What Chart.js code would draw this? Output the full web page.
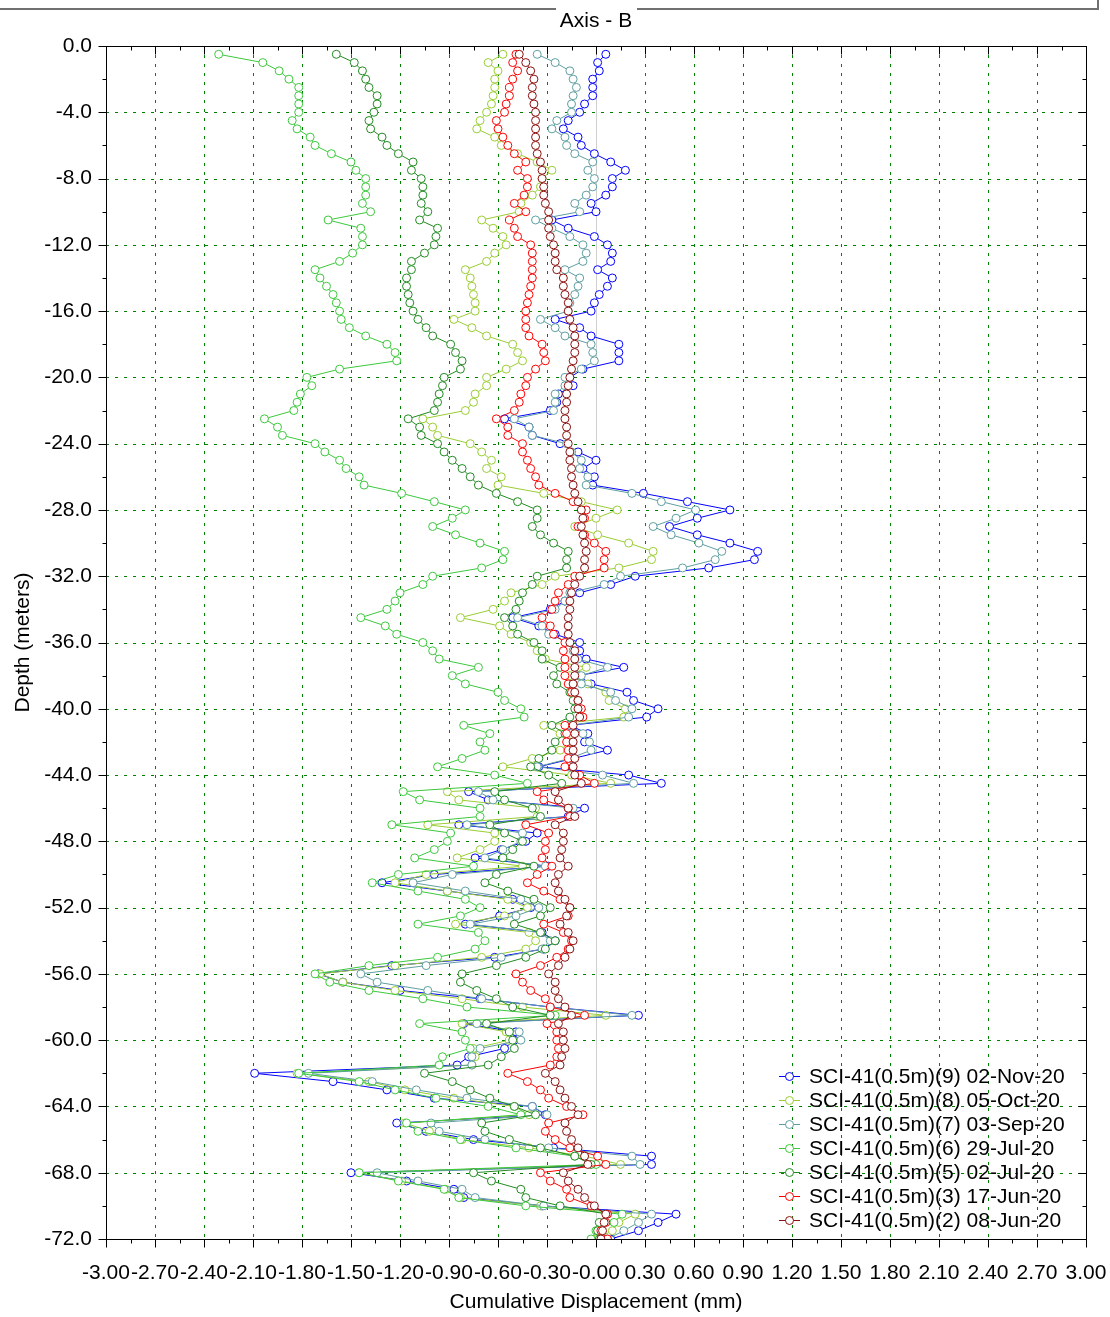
<!DOCTYPE html>
<html>
<head>
<meta charset="utf-8">
<script src="https://cdn.jsdelivr.net/npm/chart.js@4.4.0/dist/chart.umd.min.js"></script>
<style>
  html, body { margin: 0; padding: 0; background: #fff; }
</style>
</head>
<body>
<canvas id="chart1" width="1110" height="1317"></canvas>
<script>
// Depth of each reading (m), every 0.5 m
const depths = Array.from({ length: 144 }, (_, i) => -0.5 * (i + 1));

// Cumulative displacement (mm) per survey, top to bottom
const nov02 = [0.06,0.01,0.02,-0.02,-0.02,-0.02,-0.07,-0.10,-0.17,-0.20,-0.11,-0.09,-0.01,0.09,
  0.18,0.10,0.10,0.06,-0.03,0.00,-0.27,-0.17,-0.01,0.07,0.10,0.09,0.01,0.10,
  0.07,0.02,-0.01,-0.03,-0.25,-0.10,-0.03,0.14,0.14,0.14,-0.08,-0.16,-0.14,-0.23,-0.24,
  -0.28,-0.56,-0.41,-0.39,-0.22,-0.11,0.00,-0.08,-0.01,-0.02,0.29,0.56,0.82,0.62,
  0.45,0.62,0.82,0.99,0.97,0.69,0.24,0.09,-0.10,-0.19,-0.28,-0.51,-0.35,-0.25,-0.10,
  -0.10,-0.06,0.17,-0.11,-0.03,0.19,0.23,0.38,0.31,-0.16,-0.05,-0.07,0.07,-0.14,
  -0.35,0.20,0.40,-0.78,-0.66,-0.07,-0.17,-0.84,-0.36,-0.43,-0.58,-0.74,-0.29,-0.99,-1.31,
  -0.91,-0.51,-0.40,-0.59,-0.80,-0.33,-0.25,-0.32,-0.62,-1.25,-1.70,-1.55,-1.20,-0.71,
  -0.28,0.26,-0.81,-0.49,-0.50,-0.56,-0.78,-0.85,-2.09,-1.61,-1.28,-0.99,-0.39,-0.31,-1.22,
  -1.04,-0.75,-0.26,0.34,0.34,-1.50,-1.16,-0.87,-0.81,-0.33,0.49,0.38,0.26,0.09];
const oct05 = [-0.57,-0.66,-0.60,-0.62,-0.62,-0.63,-0.64,-0.67,-0.71,-0.73,-0.62,-0.58,-0.48,-0.36,
  -0.27,-0.33,-0.34,-0.39,-0.46,-0.47,-0.70,-0.63,-0.57,-0.55,-0.62,-0.67,-0.80,-0.77,
  -0.76,-0.75,-0.74,-0.74,-0.87,-0.76,-0.67,-0.51,-0.48,-0.45,-0.55,-0.67,-0.67,-0.74,-0.75,
  -0.80,-1.06,-1.00,-0.97,-0.77,-0.70,-0.64,-0.67,-0.58,-0.60,-0.32,-0.09,0.13,0.00,
  -0.13,0.01,0.20,0.35,0.34,0.14,-0.25,-0.33,-0.52,-0.56,-0.63,-0.83,-0.59,-0.52,-0.40,
  -0.36,-0.31,-0.06,-0.16,-0.05,0.06,0.08,0.18,0.17,-0.32,-0.22,-0.16,-0.22,-0.39,
  -0.57,-0.15,0.09,-0.91,-0.84,-0.37,-0.36,-1.03,-0.62,-0.62,-0.71,-0.85,-0.45,-1.04,-1.23,
  -0.91,-0.54,-0.42,-0.56,-0.86,-0.41,-0.37,-0.43,-0.70,-1.23,-1.69,-1.55,-1.23,-0.82,
  -0.45,0.06,-0.82,-0.55,-0.53,-0.75,-0.74,-0.76,-1.83,-1.39,-1.17,-0.87,-0.50,-0.41,-1.17,
  -1.02,-0.82,-0.41,-0.07,0.15,-1.45,-1.19,-0.92,-0.83,-0.34,0.24,0.14,0.10,0.00];
const sep03 = [-0.36,-0.25,-0.16,-0.14,-0.12,-0.14,-0.15,-0.15,-0.24,-0.27,-0.19,-0.18,-0.13,-0.02,
  -0.05,-0.01,-0.02,-0.06,-0.13,-0.10,-0.37,-0.27,-0.16,-0.08,-0.06,-0.08,-0.19,-0.10,
  -0.11,-0.13,-0.16,-0.17,-0.34,-0.25,-0.19,-0.03,-0.02,-0.01,-0.09,-0.19,-0.19,-0.25,-0.25,
  -0.26,-0.50,-0.41,-0.39,-0.18,-0.15,-0.09,-0.10,-0.05,-0.06,0.22,0.40,0.61,0.49,
  0.35,0.46,0.63,0.77,0.73,0.53,0.15,0.05,-0.16,-0.19,-0.25,-0.48,-0.33,-0.29,-0.16,
  -0.14,-0.11,0.07,-0.09,-0.09,0.09,0.12,0.22,0.20,-0.16,-0.08,-0.04,-0.03,-0.16,
  -0.36,0.04,0.23,-0.72,-0.63,-0.14,-0.16,-0.79,-0.45,-0.46,-0.57,-0.68,-0.31,-0.88,-1.12,
  -0.80,-0.46,-0.35,-0.49,-0.77,-0.34,-0.28,-0.33,-0.58,-1.04,-1.44,-1.34,-1.03,-0.70,
  -0.28,0.22,-0.73,-0.47,-0.46,-0.71,-0.76,-0.76,-1.76,-1.37,-1.10,-0.79,-0.39,-0.30,-1.01,
  -0.96,-0.68,-0.29,0.22,0.27,-1.34,-1.09,-0.82,-0.74,-0.32,0.34,0.26,0.17,0.07];
const jul29 = [-2.31,-2.04,-1.94,-1.88,-1.82,-1.82,-1.82,-1.82,-1.86,-1.83,-1.75,-1.72,-1.62,-1.50,
  -1.47,-1.41,-1.41,-1.41,-1.43,-1.38,-1.64,-1.44,-1.43,-1.43,-1.49,-1.57,-1.72,-1.69,
  -1.65,-1.61,-1.59,-1.57,-1.56,-1.51,-1.41,-1.28,-1.23,-1.22,-1.57,-1.77,-1.74,-1.81,-1.83,
  -1.85,-2.03,-1.95,-1.92,-1.72,-1.66,-1.57,-1.53,-1.45,-1.42,-1.19,-0.99,-0.80,-0.88,
  -1.00,-0.86,-0.71,-0.56,-0.57,-0.70,-1.00,-1.06,-1.20,-1.23,-1.28,-1.44,-1.29,-1.22,-1.06,
  -1.00,-0.96,-0.72,-0.88,-0.80,-0.60,-0.56,-0.46,-0.44,-0.81,-0.65,-0.71,-0.68,-0.82,
  -0.97,-0.62,-0.42,-1.18,-1.08,-0.71,-0.71,-1.25,-0.89,-0.91,-0.99,-1.11,-0.75,-1.21,-1.37,
  -1.09,-0.80,-0.71,-0.83,-1.09,-0.72,-0.68,-0.74,-0.97,-1.39,-1.72,-1.63,-1.39,-1.06,
  -0.79,-0.25,-1.08,-0.82,-0.80,-0.77,-0.94,-0.96,-1.82,-1.45,-1.23,-0.98,-0.66,-0.46,-1.16,
  -1.09,-0.83,-0.49,-0.13,0.00,-1.45,-1.21,-0.93,-0.84,-0.43,0.16,0.11,0.00,-0.03];
const jul02 = [-1.59,-1.48,-1.43,-1.41,-1.39,-1.34,-1.34,-1.36,-1.39,-1.38,-1.31,-1.28,-1.21,-1.12,
  -1.13,-1.07,-1.06,-1.06,-1.07,-1.03,-1.08,-0.97,-0.98,-0.99,-1.05,-1.13,-1.13,-1.16,
  -1.16,-1.15,-1.14,-1.12,-1.09,-1.04,-1.00,-0.89,-0.86,-0.82,-0.83,-0.93,-0.94,-0.96,-0.97,
  -0.99,-1.15,-1.08,-1.07,-0.97,-0.93,-0.88,-0.82,-0.77,-0.72,-0.61,-0.48,-0.36,-0.36,
  -0.39,-0.34,-0.26,-0.17,-0.18,-0.18,-0.36,-0.39,-0.45,-0.47,-0.49,-0.56,-0.51,-0.48,-0.38,
  -0.33,-0.33,-0.22,-0.26,-0.24,-0.16,-0.14,-0.13,-0.16,-0.27,-0.19,-0.25,-0.27,-0.35,
  -0.40,-0.29,-0.21,-0.62,-0.56,-0.39,-0.34,-0.65,-0.56,-0.45,-0.51,-0.57,-0.38,-0.61,-0.68,
  -0.54,-0.38,-0.28,-0.34,-0.50,-0.34,-0.25,-0.31,-0.43,-0.61,-0.82,-0.83,-0.73,-0.61,
  -0.51,-0.28,-0.67,-0.53,-0.51,-0.50,-0.58,-0.66,-1.05,-0.88,-0.77,-0.65,-0.50,-0.37,-0.70,
  -0.68,-0.53,-0.34,-0.13,-0.03,-0.75,-0.64,-0.46,-0.43,-0.22,0.07,0.02,0.01,0.02];
const jun17 = [-0.49,-0.51,-0.48,-0.51,-0.53,-0.53,-0.55,-0.56,-0.61,-0.60,-0.57,-0.54,-0.50,-0.43,
  -0.48,-0.42,-0.42,-0.44,-0.50,-0.43,-0.53,-0.50,-0.48,-0.40,-0.39,-0.39,-0.39,-0.39,
  -0.40,-0.41,-0.42,-0.43,-0.43,-0.43,-0.41,-0.33,-0.32,-0.31,-0.37,-0.42,-0.43,-0.46,-0.47,
  -0.50,-0.61,-0.54,-0.54,-0.45,-0.45,-0.42,-0.40,-0.37,-0.35,-0.25,-0.14,-0.06,-0.07,
  -0.11,-0.07,-0.01,0.06,0.05,0.05,-0.13,-0.17,-0.23,-0.25,-0.27,-0.33,-0.28,-0.26,-0.19,
  -0.20,-0.19,-0.19,-0.19,-0.17,-0.15,-0.11,-0.09,-0.08,-0.19,-0.18,-0.18,-0.17,-0.17,
  -0.19,-0.10,-0.01,-0.36,-0.32,-0.17,-0.16,-0.43,-0.29,-0.31,-0.31,-0.33,-0.27,-0.36,-0.42,
  -0.32,-0.22,-0.16,-0.17,-0.32,-0.20,-0.15,-0.17,-0.24,-0.34,-0.49,-0.45,-0.40,-0.31,
  -0.28,-0.07,-0.30,-0.24,-0.24,-0.23,-0.24,-0.28,-0.54,-0.42,-0.34,-0.29,-0.18,-0.08,-0.29,
  -0.31,-0.25,-0.16,0.01,0.06,-0.34,-0.28,-0.18,-0.16,-0.03,0.07,0.06,0.03,0.07];
const jun08 = [-0.47,-0.43,-0.40,-0.38,-0.39,-0.39,-0.38,-0.37,-0.37,-0.37,-0.37,-0.37,-0.36,-0.34,
  -0.33,-0.33,-0.32,-0.32,-0.31,-0.29,-0.29,-0.29,-0.28,-0.26,-0.25,-0.25,-0.24,-0.20,
  -0.20,-0.19,-0.17,-0.17,-0.16,-0.14,-0.13,-0.13,-0.13,-0.14,-0.15,-0.16,-0.17,-0.18,-0.18,
  -0.19,-0.19,-0.18,-0.18,-0.17,-0.16,-0.16,-0.15,-0.15,-0.14,-0.13,-0.11,-0.09,-0.08,
  -0.09,-0.08,-0.07,-0.06,-0.07,-0.07,-0.10,-0.13,-0.15,-0.16,-0.16,-0.17,-0.17,-0.17,-0.16,
  -0.13,-0.13,-0.13,-0.13,-0.14,-0.13,-0.11,-0.11,-0.10,-0.14,-0.13,-0.14,-0.14,-0.13,
  -0.14,-0.13,-0.09,-0.25,-0.23,-0.17,-0.13,-0.25,-0.20,-0.20,-0.21,-0.22,-0.17,-0.23,-0.25,
  -0.23,-0.19,-0.16,-0.18,-0.22,-0.17,-0.14,-0.16,-0.19,-0.23,-0.29,-0.25,-0.25,-0.23,
  -0.19,-0.15,-0.23,-0.20,-0.20,-0.19,-0.21,-0.22,-0.31,-0.25,-0.22,-0.19,-0.15,-0.11,-0.19,
  -0.18,-0.15,-0.11,-0.07,-0.05,-0.20,-0.17,-0.11,-0.07,-0.01,0.06,0.05,0.04,0.03];

const seriesLabels = [
  'SCI-41(0.5m)(9) 02-Nov-20', 'SCI-41(0.5m)(8) 05-Oct-20', 'SCI-41(0.5m)(7) 03-Sep-20',
  'SCI-41(0.5m)(6) 29-Jul-20', 'SCI-41(0.5m)(5) 02-Jul-20', 'SCI-41(0.5m)(3) 17-Jun-20',
  'SCI-41(0.5m)(2) 08-Jun-20'
];
const seriesValues = [nov02, oct05, sep03, jul29, jul02, jun17, jun08];
const seriesColors = ['#0000ff', '#9acd32', '#5f9ea0', '#3cc83c', '#228b22', '#ff0000', '#8b1010'];

// Axis ticks
const xTicks = [-3, -2.7, -2.4, -2.1, -1.8, -1.5, -1.2, -0.9, -0.6, -0.3, 0, 0.3, 0.6, 0.9, 1.2, 1.5, 1.8, 2.1, 2.4, 2.7, 3];
const xTickLabels = ['-3.00', '-2.70', '-2.40', '-2.10', '-1.80', '-1.50', '-1.20', '-0.90', '-0.60', '-0.30', '-0.00',
  '0.30', '0.60', '0.90', '1.20', '1.50', '1.80', '2.10', '2.40', '2.70', '3.00'];
const yTicks = [0, -4, -8, -12, -16, -20, -24, -28, -32, -36, -40, -44, -48, -52, -56, -60, -64, -68, -72];
const yTickLabels = ['0.0', '-4.0', '-8.0', '-12.0', '-16.0', '-20.0', '-24.0', '-28.0', '-32.0', '-36.0', '-40.0',
  '-44.0', '-48.0', '-52.0', '-56.0', '-60.0', '-64.0', '-68.0', '-72.0'];

const FONT = 'Liberation Sans, Arial, sans-serif';

// grid, zero line, frame and tick marks
const axesFrame = {
  id: 'axesFrame',
  beforeDatasetsDraw(chart) {
    const { ctx, chartArea: a, scales: { x, y } } = chart;
    ctx.save();
    ctx.lineWidth = 1;
    ctx.strokeStyle = '#008000';
    ctx.setLineDash([3, 6]);
    ctx.beginPath();
    xTicks.forEach(v => {
      if (v === 0 || v === -3 || v === 3) return;
      const px = Math.round(x.getPixelForValue(v)) + 0.5;
      ctx.moveTo(px, a.top); ctx.lineTo(px, a.bottom);
    });
    yTicks.forEach(v => {
      if (v === 0 || v === -72) return;
      const py = Math.round(y.getPixelForValue(v)) + 0.5;
      ctx.moveTo(a.left, py); ctx.lineTo(a.right, py);
    });
    ctx.stroke();
    ctx.setLineDash([]);
    ctx.strokeStyle = '#cfcfcf';
    const zx = Math.round(x.getPixelForValue(0)) + 0.5;
    ctx.beginPath(); ctx.moveTo(zx, a.top); ctx.lineTo(zx, a.bottom); ctx.stroke();
    ctx.restore();
  },
  afterDatasetsDraw(chart) {
    const { ctx, chartArea: a, scales: { x, y } } = chart;
    ctx.save();
    ctx.strokeStyle = '#000';
    ctx.lineWidth = 1;
    const L = Math.round(a.left) + 0.5, R = Math.round(a.right) + 0.5;
    const T = Math.round(a.top) + 0.5, B = Math.round(a.bottom) + 0.5;
    ctx.strokeRect(L, T, R - L, B - T);
    ctx.beginPath();
    for (let k = 0; k < xTicks.length; k++) {
      const px = Math.round(x.getPixelForValue(xTicks[k])) + 0.5;
      ctx.moveTo(px, B); ctx.lineTo(px, B + 8);
      ctx.moveTo(px, T); ctx.lineTo(px, T + 8);
      if (k < xTicks.length - 1) {
        const mx = Math.round(x.getPixelForValue((xTicks[k] + xTicks[k + 1]) / 2)) + 0.5;
        ctx.moveTo(mx, B); ctx.lineTo(mx, B + 4);
        ctx.moveTo(mx, T); ctx.lineTo(mx, T + 4);
      }
    }
    for (let k = 0; k < yTicks.length; k++) {
      const py = Math.round(y.getPixelForValue(yTicks[k])) + 0.5;
      ctx.moveTo(L, py); ctx.lineTo(L - 8, py);
      ctx.moveTo(R, py); ctx.lineTo(R - 8, py);
      if (k < yTicks.length - 1) {
        const my = Math.round(y.getPixelForValue((yTicks[k] + yTicks[k + 1]) / 2)) + 0.5;
        ctx.moveTo(L, my); ctx.lineTo(L - 4, my);
        ctx.moveTo(R, my); ctx.lineTo(R - 4, my);
      }
    }
    ctx.stroke();
    ctx.restore();
  },
  afterDraw(chart) {
    const { ctx, chartArea: a } = chart;
    ctx.save();
    // outer frame at the top
    ctx.strokeStyle = '#707070';
    ctx.lineWidth = 2;
    ctx.beginPath();
    ctx.moveTo(0, 9); ctx.lineTo(556, 9);
    ctx.moveTo(637, 9); ctx.lineTo(1098, 9); ctx.lineTo(1098, 0);
    ctx.stroke();
    // title
    ctx.fillStyle = '#000';
    ctx.font = '21px ' + FONT;
    ctx.textAlign = 'center';
    ctx.textBaseline = 'middle';
    ctx.fillText('Axis - B', (a.left + a.right) / 2, 21);
    // legend
    ctx.textAlign = 'left';
    chart.data.datasets.forEach((ds, i) => {
      const yy = 1076 + 24 * i;
      ctx.strokeStyle = ds.borderColor;
      ctx.lineWidth = 1;
      ctx.beginPath(); ctx.moveTo(779, yy + 0.5); ctx.lineTo(800, yy + 0.5); ctx.stroke();
      ctx.beginPath(); ctx.arc(789.5, yy + 0.5, 4, 0, Math.PI * 2);
      ctx.fillStyle = '#fff'; ctx.fill(); ctx.stroke();
      ctx.fillStyle = '#000';
      ctx.fillText(ds.label, 809, yy + 1);
    });
    ctx.restore();
  }
};

const datasets = seriesValues.map((vals, k) => ({
  label: seriesLabels[k],
  data: vals.map((v, i) => ({ x: v, y: depths[i] })),
  borderColor: seriesColors[k],
  pointBorderColor: seriesColors[k],
  pointBackgroundColor: '#fff',
  borderWidth: 1,
  pointRadius: 4,
  pointBorderWidth: 1,
  tension: 0,
  fill: false,
  order: seriesValues.length - k
}));

const ctx = document.getElementById('chart1').getContext('2d');
const myChart = new Chart(ctx, {
  type: 'line',
  data: { datasets: datasets },
  options: {
    responsive: false,
    animation: false,
    layout: { padding: { top: 46, right: 24, left: 0, bottom: 0 } },
    plugins: { legend: { display: false }, tooltip: { enabled: false }, title: { display: false } },
    scales: {
      x: {
        type: 'linear', min: -3, max: 3,
        afterBuildTicks: s => { s.ticks = xTicks.map(v => ({ value: v })); },
        afterFit: s => { s.height = 78; s.paddingLeft = 0; s.paddingRight = 0; },
        grid: { display: false, drawTicks: false },
        border: { display: false },
        ticks: {
          autoSkip: false, maxRotation: 0, padding: 22, color: '#000',
          font: { family: FONT, size: 21 },
          callback: (v, i) => xTickLabels[i]
        },
        title: { display: true, text: 'Cumulative Displacement (mm)', color: '#000',
          font: { family: FONT, size: 21 }, padding: { top: 0, bottom: 2 } }
      },
      y: {
        type: 'linear', min: -72, max: 0,
        afterBuildTicks: s => { s.ticks = yTicks.map(v => ({ value: v })); },
        afterFit: s => { s.width = 106; s.paddingTop = 0; s.paddingBottom = 0; },
        grid: { display: false, drawTicks: false },
        border: { display: false },
        ticks: {
          autoSkip: false, padding: 14, color: '#000',
          font: { family: FONT, size: 21 },
          callback: (v, i) => yTickLabels[i]
        },
        title: { display: true, text: 'Depth (meters)', color: '#000',
          font: { family: FONT, size: 21 }, padding: { top: 11, bottom: 0 } }
      }
    }
  },
  plugins: [axesFrame]
});
</script>
</body>
</html>
